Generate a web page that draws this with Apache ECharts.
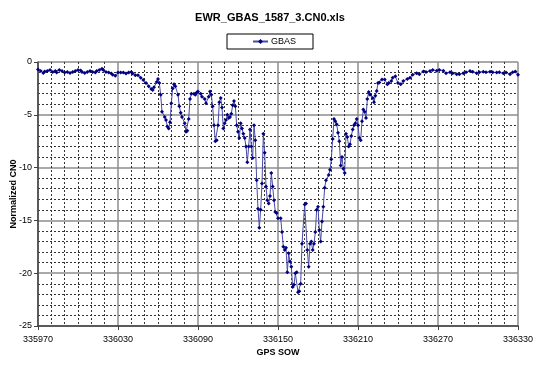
<!DOCTYPE html>
<html>
<head>
<meta charset="utf-8">
<script src="https://cdn.jsdelivr.net/npm/echarts@6/dist/echarts.min.js"></script>
<style>html,body{margin:0;padding:0;background:#fff;}#c{width:540px;height:368px;}</style>
</head>
<body>
<div id="c"></div>
<script>
const chartTitle = 'EWR_GBAS_1587_3.CN0.xls';
const seriesName = 'GBAS';
const xAxisName = 'GPS SOW';
const yAxisName = 'Normalized CN0';
const xTicks = [335970, 336030, 336090, 336150, 336210, 336270, 336330];
const yTicks = [-25, -20, -15, -10, -5, 0];

const times = [
335970,335972,335974,335975,335977,335979,335981,335983,335984,335986,
335988,335990,335992,335994,335996,335998,336000,336002,336003,336005,
336007,336009,336011,336013,336014,336016,336018,336019,336021,336023,
336025,336026,336028,336030,336032,336034,336036,336038,336040,336041,
336043,336045,336047,336049,336051,336053,336055,336056,336057,336059,
336060,336061,336062,336063,336065,336066,336067,336068,336069,336070,
336071,336072,336073,336075,336076,336077,336078,336080,336081,336082,
336083,336084,336085,336087,336088,336089,336090,336092,336093,336095,
336096,336098,336099,336100,336101,336102,336103,336104,336105,336106,
336107,336108,336109,336110,336111,336112,336113,336114,336115,336116,
336117,336118,336119,336120,336121,336122,336123,336124,336125,336126,
336127,336128,336129,336130,336131,336132,336133,336134,336135,336136,
336137,336138,336139,336140,336141,336142,336143,336144,336145,336146,
336147,336148,336149,336150,336152,336153,336154,336155,336156,336157,
336158,336159,336160,336161,336162,336163,336164,336165,336166,336167,
336168,336170,336171,336172,336173,336174,336175,336176,336177,336178,
336179,336180,336181,336182,336183,336184,336185,336186,336188,336189,
336190,336191,336192,336193,336194,336195,336196,336197,336198,336199,
336200,336201,336202,336203,336204,336205,336206,336207,336208,336209,
336210,336211,336212,336213,336214,336215,336216,336217,336218,336219,
336221,336222,336223,336224,336225,336226,336228,336230,336232,336233,
336235,336236,336238,336240,336242,336244,336247,336249,336251,336254,
336256,336259,336261,336264,336266,336269,336271,336274,336276,336279,
336281,336284,336286,336289,336291,336294,336296,336299,336301,336304,
336306,336309,336311,336314,336316,336319,336321,336324,336326,336328,
336330
];
const cn0 = [
-0.7,-0.85,-1.05,-0.9,-0.85,-0.75,-0.95,-0.85,-1.0,-0.75,
-0.85,-1.0,-0.95,-1.05,-0.95,-0.85,-0.75,-0.8,-0.95,-1.05,
-0.95,-0.85,-0.95,-1.0,-0.85,-0.75,-0.65,-0.75,-0.95,-1.0,
-1.1,-1.2,-1.3,-1.0,-1.0,-1.0,-1.1,-1.0,-0.95,-1.1,
-1.25,-1.25,-1.5,-1.7,-2.0,-2.3,-2.55,-2.65,-2.4,-1.9,
-1.6,-2.0,-3.1,-4.7,-5.2,-5.5,-6.1,-6.3,-5.7,-3.9,
-2.5,-2.1,-2.3,-3.1,-4.2,-4.8,-5.2,-5.8,-6.6,-6.5,
-5.4,-3.5,-3.0,-3.0,-3.1,-2.9,-2.8,-3.0,-3.3,-3.5,
-3.9,-3.3,-2.8,-3.1,-4.2,-6.0,-7.5,-7.4,-6.0,-3.8,
-3.4,-4.3,-6.3,-5.8,-5.5,-5.0,-5.3,-5.2,-4.9,-4.1,
-3.7,-4.2,-6.0,-6.6,-7.2,-5.8,-6.3,-6.8,-7.2,-8.0,
-9.5,-8.0,-6.4,-8.0,-9.1,-6.0,-7.4,-11.2,-13.9,-15.7,
-14.0,-11.5,-6.8,-8.6,-11.8,-13.1,-13.4,-12.7,-10.5,-11.8,
-13.1,-14.2,-14.3,-14.8,-14.8,-16.1,-17.5,-17.8,-17.6,-19.9,
-18.1,-18.9,-19.4,-21.3,-21.1,-20.0,-19.9,-21.8,-21.7,-21.0,
-17.2,-13.5,-13.4,-17.8,-19.4,-17.2,-17.0,-17.8,-17.2,-16.1,
-14.0,-13.7,-15.9,-17.0,-15.1,-13.7,-11.9,-11.2,-10.7,-10.2,
-9.2,-7.3,-5.4,-5.6,-5.9,-6.7,-7.5,-9.8,-9.0,-10.1,
-10.5,-6.8,-7.1,-8.0,-7.8,-7.0,-6.4,-6.0,-5.8,-5.4,
-6.0,-7.2,-7.4,-5.6,-4.5,-4.7,-5.3,-3.5,-2.85,-3.1,
-3.4,-3.8,-3.2,-2.75,-2.0,-1.95,-1.65,-1.65,-2.1,-2.0,
-1.8,-1.5,-1.35,-2.0,-2.1,-1.8,-1.6,-1.5,-1.2,-1.07,
-1.15,-0.9,-0.95,-0.85,-0.75,-0.82,-0.75,-0.82,-1.07,-0.98,
-1.07,-1.15,-1.15,-1.07,-0.98,-0.85,-0.92,-1.07,-0.98,-0.92,
-0.98,-0.92,-0.98,-1.0,-0.98,-1.07,-1.0,-1.15,-0.98,-0.9,
-1.2
];

const FONT = '"Liberation Sans", Arial, sans-serif';
const chart = echarts.init(document.getElementById('c'), null, {renderer: 'canvas'});
const data = times.map((t, i) => [t, cn0[i]]);

chart.setOption({
  animation: false,
  backgroundColor: '#ffffff',
  title: {
    text: chartTitle,
    left: 'center',
    top: 7,
    textStyle: {fontFamily: FONT, fontSize: 11, fontWeight: 'bold', color: '#000'}
  },
  legend: {
    data: [seriesName],
    left: 227,
    top: 34,
    padding: [3, 17, 3, 25],
    borderColor: '#000',
    borderWidth: 1,
    itemWidth: 15,
    itemHeight: 6,
    itemGap: 0,
    textStyle: {fontFamily: FONT, fontSize: 9, color: '#000', padding: [0, 0, 0, -2]}
  },
  grid: {left: 38, top: 62, width: 480, height: 264, containLabel: false, outerBoundsMode: 'none'},
  xAxis: {
    type: 'value',
    min: xTicks[0],
    max: xTicks[xTicks.length - 1],
    interval: 60,
    name: xAxisName,
    nameLocation: 'middle',
    nameGap: 22,
    nameMoveOverlap: false,
    nameTextStyle: {fontFamily: FONT, fontSize: 9, fontWeight: 'bold', color: '#000'},
    axisLine: {show: true, onZero: false, lineStyle: {color: '#404040', width: 1.5}},
    axisTick: {show: true, length: 4, lineStyle: {color: '#404040'}},
    minorTick: {show: false, splitNumber: 6},
    axisLabel: {fontFamily: FONT, fontSize: 9, color: '#000', margin: 9,
      formatter: v => String(v)},
    splitLine: {show: true, lineStyle: {color: '#8c8c8c', width: 1.5}},
    minorSplitLine: {show: true, lineStyle: {color: '#333', width: 1, type: [2, 2]}}
  },
  yAxis: {
    type: 'value',
    min: yTicks[0],
    max: yTicks[yTicks.length - 1],
    interval: 5,
    name: yAxisName,
    nameLocation: 'middle',
    nameGap: 20,
    nameMoveOverlap: false,
    nameRotate: 90,
    nameTextStyle: {fontFamily: FONT, fontSize: 9, fontWeight: 'bold', color: '#000'},
    axisLine: {show: true, onZero: false, lineStyle: {color: '#404040', width: 1.5}},
    axisTick: {show: true, length: 4, lineStyle: {color: '#404040'}},
    minorTick: {show: false, splitNumber: 5},
    axisLabel: {fontFamily: FONT, fontSize: 9, color: '#000', margin: 6},
    splitLine: {show: true, lineStyle: {color: '#8c8c8c', width: 1.5}},
    minorSplitLine: {show: true, lineStyle: {color: '#333', width: 1, type: [2, 2]}}
  },
  series: [{
    name: seriesName,
    type: 'line',
    data: data,
    symbol: 'diamond',
    symbolSize: 4,
    showAllSymbol: true,
    itemStyle: {color: '#000080'},
    lineStyle: {color: '#4a4aa8', width: 1}
  }]
});
</script>
</body>
</html>
